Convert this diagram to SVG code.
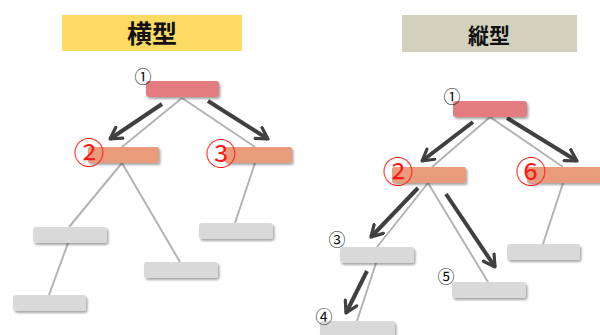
<svg xmlns="http://www.w3.org/2000/svg" width="600" height="335" viewBox="0 0 600 335">
  <style>
    .title { font-family: "Noto Sans CJK JP", sans-serif; font-weight: bold; fill: #111; text-anchor: middle; }
    .box { stroke: none; filter: url(#shadow); }
    .root { fill: #e37b80; }
    .mid { fill: #e99c7c; }
    .leaf { fill: #d9d9d9; }
    .link { stroke: #b3b3b3; stroke-width: 2; fill: none; }
    .flow { stroke: #404040; stroke-width: 4; fill: none; marker-end: url(#chev); }
    .num { font-family: "Noto Sans CJK JP", "DejaVu Sans", sans-serif; font-size: 17px; fill: #111; text-anchor: middle; }
    .big { font-family: "Noto Sans CJK JP", "DejaVu Sans", sans-serif; font-size: 31px; fill: #ff1a1a; text-anchor: middle; }
  </style>
  <defs>
    <filter id="shadow" x="-10%" y="-30%" width="125%" height="180%">
      <feDropShadow dx="1.5" dy="2" stdDeviation="1" flood-color="#000" flood-opacity="0.35"/>
    </filter>
    <marker id="chev" viewBox="0 0 10 10" refX="8" refY="5" markerWidth="4" markerHeight="4" orient="auto" markerUnits="strokeWidth">
      <path d="M1,1 L8,5 L1,9" fill="none" stroke="#404040" stroke-width="2" stroke-linecap="round" stroke-linejoin="round"/>
    </marker>
  </defs>

  <!-- headings -->
  <g id="title-yoko">
    <rect x="62" y="15" width="180" height="36" fill="#fcda63"/>
    <text class="title" x="152" y="43" font-size="25">横型</text>
  </g>
  <g id="title-tate">
    <rect x="402" y="15" width="175" height="37" fill="#d1d1bd"/>
    <text class="title" x="489" y="43" font-size="21">縦型</text>
  </g>

  <!-- tree lines and traversal arrows -->
  <g id="connectors">
    <!-- breadth-first tree -->
    <line class="link" x1="182" y1="98" x2="122" y2="147"/>
    <line class="link" x1="182" y1="98" x2="255" y2="147"/>
    <line class="link" x1="122" y1="163" x2="69" y2="227"/>
    <line class="link" x1="122" y1="163" x2="180" y2="262"/>
    <line class="link" x1="255" y1="163" x2="235" y2="223"/>
    <line class="link" x1="68" y1="243" x2="49" y2="295"/>
    <line class="flow" x1="162" y1="104" x2="110" y2="139"/>
    <line class="flow" x1="208" y1="101" x2="268" y2="139"/>
    <!-- depth-first tree -->
    <line class="link" x1="490" y1="117" x2="432" y2="167"/>
    <line class="link" x1="490" y1="117" x2="563" y2="167"/>
    <line class="link" x1="428" y1="183" x2="377" y2="247"/>
    <line class="link" x1="428" y1="183" x2="488" y2="282"/>
    <line class="link" x1="563" y1="183" x2="543" y2="244"/>
    <line class="link" x1="376" y1="263" x2="357" y2="321"/>
    <line class="flow" x1="473" y1="122" x2="422" y2="161"/>
    <line class="flow" x1="507" y1="118" x2="577" y2="161"/>
    <line class="flow" x1="418" y1="188" x2="371" y2="237"/>
    <line class="flow" x1="446" y1="194" x2="495" y2="267"/>
    <line class="flow" x1="367" y1="271" x2="346" y2="313"/>
  </g>

  <!-- breadth-first nodes -->
  <g id="h-n1"><rect class="box root" x="146" y="81" width="73" height="16" rx="3"/><text class="num" x="143" y="83">①</text></g>
  <g id="h-n2"><rect class="box mid" x="88" y="147" width="71" height="16" rx="2"/><text class="big" x="89" y="164">②</text></g>
  <g id="h-n3"><rect class="box mid" x="225" y="147" width="67" height="16" rx="2"/><text class="big" x="221" y="165">③</text></g>
  <g id="h-n4"><rect class="box leaf" x="33" y="227" width="74" height="16" rx="3"/></g>
  <g id="h-n5"><rect class="box leaf" x="144" y="262" width="74" height="16" rx="3"/></g>
  <g id="h-n6"><rect class="box leaf" x="199" y="223" width="74" height="16" rx="3"/></g>
  <g id="h-n7"><rect class="box leaf" x="13" y="295" width="73" height="16" rx="3"/></g>

  <!-- depth-first nodes -->
  <g id="v-n1"><rect class="box root" x="453" y="101" width="74" height="16" rx="3"/><text class="num" x="452" y="103">①</text></g>
  <g id="v-n2"><rect class="box mid" x="392" y="167" width="74" height="16" rx="2"/><text class="big" x="398" y="183">②</text></g>
  <g id="v-n6"><rect class="box mid" x="527" y="167" width="75" height="16" rx="2"/><text class="big" x="531" y="183">⑥</text></g>
  <g id="v-n3"><rect class="box leaf" x="340" y="247" width="74" height="16" rx="3"/><text class="num" x="337" y="246">③</text></g>
  <g id="v-n4"><rect class="box leaf" x="320" y="321" width="75" height="16" rx="3"/><text class="num" x="324" y="323">④</text></g>
  <g id="v-n5"><rect class="box leaf" x="452" y="282" width="74" height="16" rx="3"/><text class="num" x="446" y="283">⑤</text></g>
  <g id="v-n7"><rect class="box leaf" x="507" y="244" width="73" height="16" rx="3"/></g>
</svg>
